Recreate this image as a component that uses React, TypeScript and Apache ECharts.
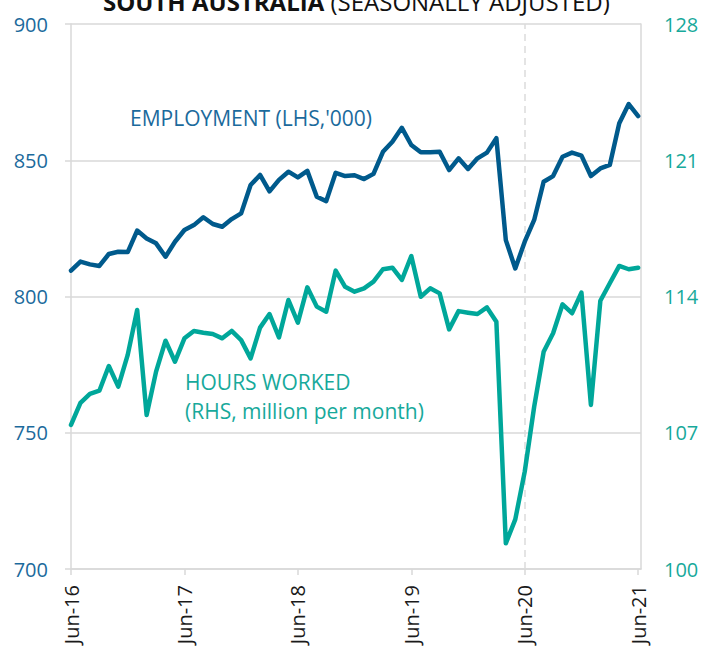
import React, { useEffect, useRef } from 'react';
import * as echarts from 'echarts';

// Month index 0 = Jun-16 ... 60 = Jun-21
const yearTicks = ['Jun-16', 'Jun-17', 'Jun-18', 'Jun-19', 'Jun-20', 'Jun-21'];
const tickMonths = [0, 12, 24, 36, 48, 60];

// Employment, '000 (LHS)
const employment = [
  809.5, 812.8, 811.8, 811.2, 815.6, 816.4, 816.3, 824.2, 821.3, 819.5,
  814.6, 820.1, 824.4, 826.2, 829.1, 826.6, 825.6, 828.4, 830.5, 840.9,
  844.6, 838.6, 842.8, 845.8, 843.7, 846.1, 836.6, 835.0, 845.4, 844.2,
  844.5, 843.1, 845.0, 853.1, 856.8, 861.9, 855.6, 852.9, 852.9, 853.1,
  846.4, 850.7, 846.8, 850.7, 852.8, 858.1, 820.7, 810.3, 820.1, 828.1,
  842.1, 844.2, 851.3, 852.8, 851.7, 844.2, 847.0, 848.3, 863.6, 870.6, 866.2,
];

// Hours worked, million per month (RHS)
const hours = [
  107.4, 108.54, 109.0, 109.16, 110.43, 109.37, 111.0, 113.31, 107.91, 110.14,
  111.73, 110.65, 111.85, 112.23, 112.14, 112.07, 111.85, 112.23, 111.76, 110.82,
  112.4, 113.1, 111.9, 113.82, 112.66, 114.47, 113.48, 113.22, 115.33, 114.5,
  114.25, 114.42, 114.76, 115.4, 115.48, 114.85, 116.08, 113.99, 114.42, 114.16,
  112.31, 113.25, 113.17, 113.1, 113.44, 112.7, 101.32, 102.55, 105.0, 108.34,
  111.16, 112.11, 113.6, 113.14, 114.2, 108.43, 113.78, 114.68, 115.57, 115.4, 115.48,
];

const markerMonth = 48; // Jun-20

const FONT = 'Open Sans';
const BLUE = '#005a8c';
const TEAL = '#00a79a';
const BLUE_TEXT = '#1b6a9c';
const TEAL_TEXT = '#17a99b';
const GREY = '#d9d9d9';

export default function App() {
  const ref = useRef<HTMLDivElement>(null);

  useEffect(() => {
    if (!ref.current) return;
    const chart = echarts.init(ref.current, null, { renderer: 'svg' });
    const option: any = {
      animation: false,
      title: {
        text: '{b|SOUTH AUSTRALIA} {n|(SEASONALLY ADJUSTED)}',
        left: 103,
        top: -11,
        padding: 0,
        textStyle: {
          fontFamily: FONT,
          fontSize: 24,
          fontWeight: 'normal',
          color: '#111',
          rich: {
            b: { fontFamily: FONT, fontSize: 24, fontWeight: 'bold', color: '#111' },
            n: { fontFamily: FONT, fontSize: 24, fontWeight: 'normal', color: '#111' },
          },
        },
      },
      grid: { left: 71, right: 61, top: 24, bottom: 79, containLabel: false, outerBoundsMode: 'none' },
      xAxis: {
        type: 'value',
        min: 0,
        max: 60.3,
        interval: 12,
        axisLine: { show: true, onZero: false, lineStyle: { color: GREY, width: 1.5 } },
        axisTick: { show: true, length: 6, customValues: tickMonths, lineStyle: { color: GREY, width: 1.5 } },
        axisLabel: {
          customValues: tickMonths,
          rotate: 90,
          margin: 16,
          fontSize: 20,
          fontFamily: FONT,
          color: '#1a1a1a',
          formatter: (v: number) => {
            const k = tickMonths.indexOf(Math.round(v));
            return k >= 0 && Math.abs(v - tickMonths[k]) < 1e-6 ? yearTicks[k] : '';
          },
        },
        splitLine: { show: false },
      },
      yAxis: [
        {
          type: 'value',
          min: 700,
          max: 900,
          interval: 50,
          position: 'left',
          axisLine: { show: true, lineStyle: { color: GREY, width: 1.5 } },
          axisTick: { show: true, length: 6, lineStyle: { color: GREY, width: 1.5 } },
          axisLabel: { margin: 23, fontSize: 20, fontFamily: FONT, color: BLUE_TEXT },
          splitLine: { show: true, lineStyle: { color: GREY, width: 1.5 } },
        },
        {
          type: 'value',
          min: 100,
          max: 128,
          interval: 7,
          position: 'right',
          axisLine: { show: true, lineStyle: { color: GREY, width: 1.5 } },
          axisTick: { show: false },
          axisLabel: { margin: 23, fontSize: 20, fontFamily: FONT, color: TEAL_TEXT },
          splitLine: { show: false },
        },
      ],
      series: [
        {
          type: 'line',
          data: [],
          z: 1,
          markLine: {
            silent: true,
            z: 1,
            symbol: ['none', 'none'],
            label: { show: false },
            lineStyle: { color: '#dcdcdc', type: [7, 5], width: 1.5 },
            data: [{ xAxis: markerMonth }],
          },
        },
        {
          name: 'Hours worked',
          type: 'line',
          yAxisIndex: 1,
          z: 3,
          showSymbol: false,
          symbol: 'none',
          data: hours.map((v, i) => [i, v]),
          lineStyle: { color: TEAL, width: 4.5, join: 'round', cap: 'round' },
          itemStyle: { color: TEAL },
        },
        {
          name: 'Employment',
          type: 'line',
          yAxisIndex: 0,
          z: 4,
          showSymbol: false,
          symbol: 'none',
          data: employment.map((v, i) => [i, v]),
          lineStyle: { color: BLUE, width: 4.5, join: 'round', cap: 'round' },
          itemStyle: { color: BLUE },
        },
      ],
      graphic: [
        {
          type: 'text',
          left: 130,
          top: 107,
          style: { text: "EMPLOYMENT (LHS,'000)", fontFamily: FONT, fontSize: 21, fill: BLUE_TEXT },
        },
        {
          type: 'text',
          left: 185,
          top: 371,
          style: { text: 'HOURS WORKED', fontFamily: FONT, fontSize: 21, fill: TEAL_TEXT },
        },
        {
          type: 'text',
          left: 185,
          top: 400,
          style: { text: '(RHS, million per month)', fontFamily: FONT, fontSize: 21, fill: TEAL_TEXT },
        },
      ],
    };
    chart.setOption(option);
    return () => chart.dispose();
  }, []);

  return (
    <div
      ref={ref}
      style={{ position: 'fixed', left: 0, top: 0, width: 702, height: 648, background: '#fff' }}
    />
  );
}
